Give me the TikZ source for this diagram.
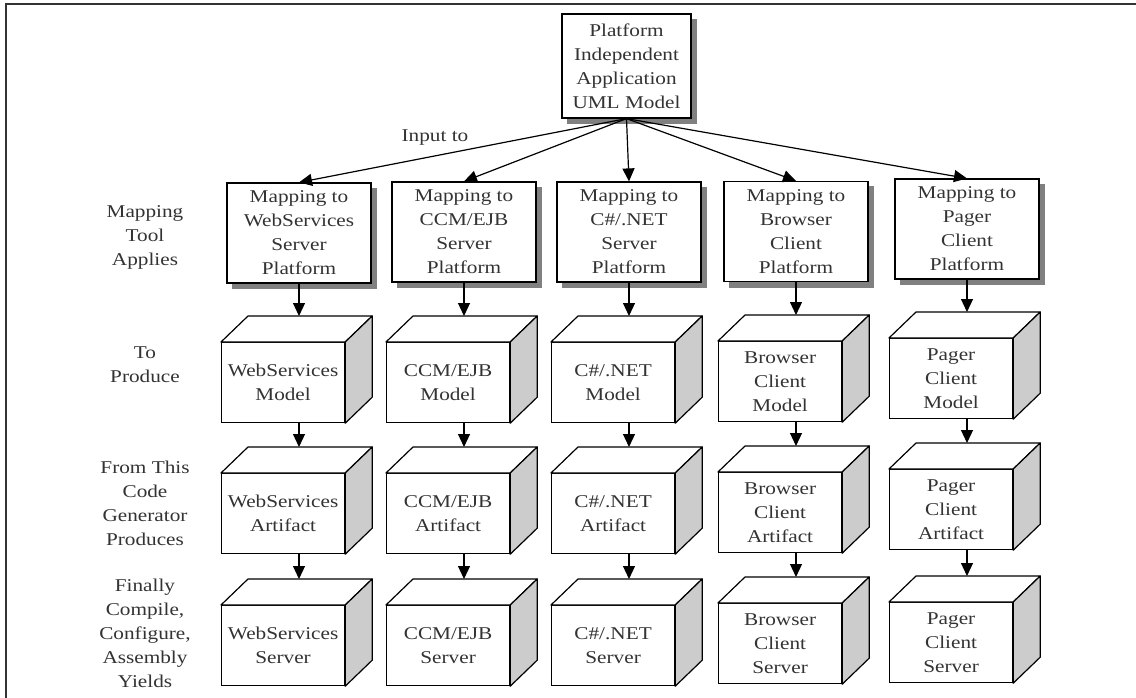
\documentclass[tikz,border=0pt]{standalone}
\usepackage{fontspec}
\setmainfont{Liberation Serif}[FakeStretch=1.18]
\usetikzlibrary{arrows.meta,calc,backgrounds}
\newcommand\cubebox[4]{%
  \node[front] (#1) at (#2,#3) {#4};
  \filldraw[facestyle, fill=white] (#1.north west) -- ++(27,-26) -- ($(#1.north east)+(27,-26)$) -- (#1.north east) -- cycle;
  \filldraw[facestyle, fill=black!20] (#1.north east) -- ++(27,-26) -- ($(#1.south east)+(27,-26)$) -- (#1.south east) -- cycle;
  \coordinate (#1-top) at ($(#1.north)+(0,-26)$);
}
\begin{document}
\begin{tikzpicture}[x=1pt,y=-1pt,
  every node/.style={font=\fontsize{18}{24}\selectfont, text=black!80, align=center},
  shadowed/.style={draw=black, line width=1.2pt, fill=white, inner sep=2pt},
  mapbox/.style={shadowed, minimum width=144pt, minimum height=100pt},
  front/.style={draw=black, line width=1.2pt, fill=white, minimum width=123pt, minimum height=80pt, inner sep=1pt, anchor=north west},
  facestyle/.style={draw=black, line width=1.2pt, line join=round},
  arr/.style={draw=black, line width=1.2pt, -{Triangle[length=13pt,width=12pt]}},
  shadowfill/.style={fill=black!50},
  side/.style={inner sep=0pt}
]
\useasboundingbox (0,0) rectangle (1136,698);
\coordinate (fa) at (6,698);
\coordinate (fb) at (6,4);
\coordinate (fc) at (1136,4);
\draw[line width=1.5pt, black!80] (fa) -- (fb) -- (fc);

% top model
\node[shadowed, minimum width=129pt, minimum height=104pt] (top) at (626.5,66) {Platform\\Independent\\Application\\UML Model};

% mapping boxes
\node[mapbox] (ws) at (299,233) {Mapping to\\WebServices\\Server\\Platform};
\node[mapbox] (cc) at (464,232) {Mapping to\\CCM/EJB\\Server\\Platform};
\node[mapbox] (cs) at (629,232) {Mapping to\\C\#/.NET\\Server\\Platform};
\node[mapbox] (br) at (796,231.5) {Mapping to\\Browser\\Client\\Platform};
\node[mapbox] (pg) at (967,229) {Mapping to\\Pager\\Client\\Platform};

\begin{scope}[on background layer]
  \fill[white] (0,0) rectangle (1136,698);
  \foreach \b in {top,ws,cc,cs,br,pg}
    \fill[shadowfill] ($(\b.south west)+(5.5,5.5)$) rectangle ($(\b.north east)+(5.5,5.5)$);
\end{scope}

\node (inp) at (435,138) {Input to};
\foreach \t in {ws,cc,cs,br,pg} \draw[arr] (top.south) -- (\t.north);

% side labels
\node[side] (l1) at (145,237) {Mapping\\Tool\\Applies};
\node[side] (l2) at (145,365) {To\\Produce};
\node[side] (l3) at (145,503) {From This\\Code\\Generator\\Produces};
\node[side] (l4) at (145,633) {Finally\\Compile,\\Configure,\\Assembly\\Yields};

% cubes
\cubebox{wsm}{221}{342}{WebServices\\Model}
\cubebox{wsa}{221}{473}{WebServices\\Artifact}
\cubebox{wss}{221}{605}{WebServices\\Server}
\cubebox{ccm}{386}{342}{CCM/EJB\\Model}
\cubebox{cca}{386}{473}{CCM/EJB\\Artifact}
\cubebox{ccs}{386}{605}{CCM/EJB\\Server}
\cubebox{csm}{551}{342}{C\#/.NET\\Model}
\cubebox{csa}{551}{473}{C\#/.NET\\Artifact}
\cubebox{css}{551}{605}{C\#/.NET\\Server}
\cubebox{brm}{718}{341}{Browser\\Client\\Model}
\cubebox{bra}{718}{472}{Browser\\Client\\Artifact}
\cubebox{brs}{718}{603}{Browser\\Client\\Server}
\cubebox{pgm}{889}{338}{Pager\\Client\\Model}
\cubebox{pga}{889}{469}{Pager\\Client\\Artifact}
\cubebox{pgs}{889}{602}{Pager\\Client\\Server}

% vertical arrows
\foreach \c in {ws,cc,cs,br,pg}{
  \draw[arr] (\c.south) -- (\c.south |- \c m-top);
  \draw[arr] (\c.south |- \c m.south) -- (\c.south |- \c a-top);
  \draw[arr] (\c.south |- \c a.south) -- (\c.south |- \c s-top);
}
\end{tikzpicture}
\end{document}
